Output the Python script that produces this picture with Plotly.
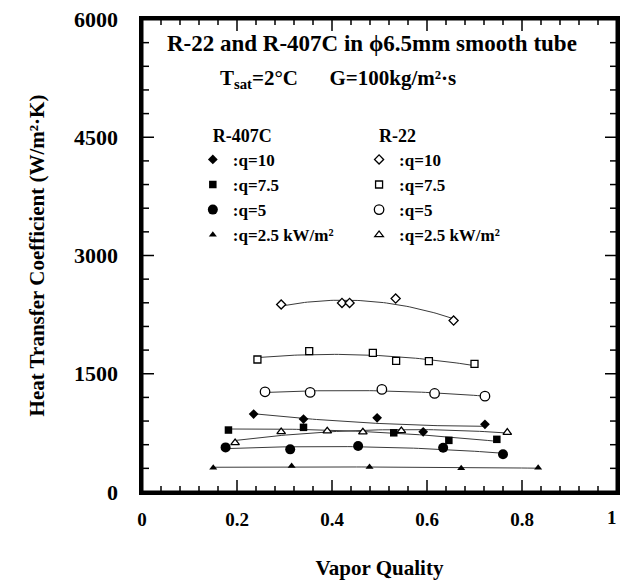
import numpy as np
import plotly.graph_objects as go

# ---------------- data ----------------
r407c_q10_x = [0.235, 0.340, 0.495, 0.592, 0.722]
r407c_q10_y = [988, 925, 941, 764, 858]
r407c_q75_x = [0.182, 0.340, 0.530, 0.646, 0.747]
r407c_q75_y = [786, 820, 751, 655, 668]
r407c_q5_x = [0.176, 0.312, 0.455, 0.634, 0.760]
r407c_q5_y = [566, 541, 583, 561, 478]
r407c_q25_x = [0.150, 0.315, 0.479, 0.672, 0.834]
r407c_q25_y = [308, 329, 317, 300, 308]

r22_q10_x = [0.293, 0.421, 0.437, 0.534, 0.656]
r22_q10_y = [2378, 2398, 2398, 2454, 2175]
r22_q75_x = [0.243, 0.352, 0.486, 0.535, 0.604, 0.700]
r22_q75_y = [1681, 1786, 1765, 1664, 1660, 1626]
r22_q5_x = [0.259, 0.354, 0.505, 0.616, 0.722]
r22_q5_y = [1271, 1263, 1301, 1250, 1216]
r22_q25_x = [0.196, 0.293, 0.390, 0.465, 0.546, 0.769]
r22_q25_y = [625, 764, 773, 760, 777, 756]

NB = "\u00a0"
x_tickvals = [0, 0.2, 0.4, 0.6, 0.8, 1]
x_ticktext = ["0", "0.2", "0.4", "0.6", "0.8", "1"]
y_tickvals = [0, 1500, 3000, 4500, 6000]
y_ticktext = ["0", "1500", "3000", "4500", "6000"]
x_minor_step = 0.04
y_minor_step = 300

legend_labels = [":q=10", ":q=7.5", ":q=5", ":q=2.5 kW/m²"]

FONT = "Liberation Serif, Times New Roman, serif"
LINE_COLOR = "#3a3a3a"

W, H = 620, 584
M_L, M_R, M_T, M_B = 142, 3, 19, 92
PLOT_W, PLOT_H = W - M_L - M_R, H - M_T - M_B

series = [
    # (x, y, symbol, filled, size, legend, label)
    (r407c_q10_x, r407c_q10_y, "diamond", True, 7.5, "legend", legend_labels[0]),
    (r407c_q75_x, r407c_q75_y, "square", True, 7.5, "legend", legend_labels[1]),
    (r407c_q5_x, r407c_q5_y, "circle", True, 10, "legend", legend_labels[2]),
    (r407c_q25_x, r407c_q25_y, "triangle-up", True, 7, "legend", legend_labels[3]),
    (r22_q10_x, r22_q10_y, "diamond", False, 7, "legend2", legend_labels[0]),
    (r22_q75_x, r22_q75_y, "square", False, 7, "legend2", legend_labels[1]),
    (r22_q5_x, r22_q5_y, "circle", False, 9.5, "legend2", legend_labels[2]),
    (r22_q25_x, r22_q25_y, "triangle-up", False, 7.5, "legend2", legend_labels[3]),
]

fig = go.Figure()

# trend curves (quadratic least-squares fit of each series)
for xs, ys, sym, filled, size, leg, label in series:
    xa = np.array(xs)
    coef = np.polyfit(xa, np.array(ys), 2)
    xf = np.linspace(xa.min(), xa.max(), 60)
    fig.add_trace(go.Scatter(
        x=xf, y=np.polyval(coef, xf), mode="lines",
        line=dict(color=LINE_COLOR, width=1), showlegend=False, hoverinfo="skip"))

# markers
for xs, ys, sym, filled, size, leg, label in series:
    fig.add_trace(go.Scatter(
        x=xs, y=ys, mode="markers", name=label, legend=leg,
        marker=dict(symbol=sym, size=size,
                    color="black" if filled else "white",
                    line=dict(color="black", width=0 if filled else 1.3))))

# ---- inward tick marks on all four frame sides ----
x_lo, x_hi = x_tickvals[0], x_tickvals[-1]
y_lo, y_hi = y_tickvals[0], y_tickvals[-1]
x_minor = [round(a + k * x_minor_step, 3) for a in x_tickvals[:-1] for k in range(1, 5)]
y_minor = [a + k * y_minor_step for a in y_tickvals[:-1] for k in range(1, 5)]

def px_to_dx(px):
    return px / PLOT_W * (x_hi - x_lo)

def px_to_dy(px):
    return px / PLOT_H * (y_hi - y_lo)

tick_x, tick_y = [], []
for vals, length in ((x_tickvals[1:-1], 12), (x_minor, 6)):
    d = px_to_dy(length)
    for v in vals:
        tick_x += [v, v, None, v, v, None]
        tick_y += [y_lo, y_lo + d, None, y_hi, y_hi - d, None]
for vals, length in ((y_tickvals[1:-1], 12), (y_minor, 7)):
    d = px_to_dx(length)
    for v in vals:
        tick_x += [x_lo, x_lo + d, None, x_hi, x_hi - d, None]
        tick_y += [v, v, None, v, v, None]

fig.add_trace(go.Scatter(
    x=tick_x, y=tick_y, mode="lines", connectgaps=False, cliponaxis=False,
    line=dict(color="black", width=1.5), showlegend=False, hoverinfo="skip"))

frame = dict(type="rect", xref="paper", yref="paper", x0=0, y0=0, x1=1, y1=1,
             line=dict(color="black", width=3), layer="above")

axis_common = dict(
    showline=True, linewidth=3, linecolor="black", mirror=True,
    ticks="", showgrid=False, zeroline=False, automargin=False,
)

fig.update_layout(
    template="none",
    width=W, height=H,
    margin=dict(l=M_L, r=M_R, t=M_T, b=M_B),
    paper_bgcolor="white", plot_bgcolor="white",
    font=dict(family=FONT, color="black", size=18, weight="bold"),
    xaxis=dict(range=[x_lo, x_hi], tickvals=x_tickvals[:-1], ticktext=x_ticktext[:-1],
               tickfont=dict(size=19, weight="bold"),
               ticklabelstandoff=8,
               title=dict(text="Vapor Quality", font=dict(size=21, weight="bold"), standoff=32),
               **axis_common),
    yaxis=dict(range=[y_lo, y_hi], tickvals=y_tickvals,
               ticktext=[t + NB * 3 for t in y_ticktext],
               tickfont=dict(size=22, weight="bold"),
               title=dict(text="Heat Transfer Coefficient (W/m²·K)",
                          font=dict(size=21, weight="bold"), standoff=24),
               **axis_common),
    shapes=[frame],
    legend=dict(x=0.107, y=0.7897, xanchor="left", yanchor="top",
                bgcolor="rgba(0,0,0,0)", itemwidth=30,
                title=dict(text=NB * 4 + "R-407C", font=dict(size=18, weight="bold")),
                font=dict(size=17, weight="bold")),
    legend2=dict(x=0.457, y=0.7897, xanchor="left", yanchor="top",
                 bgcolor="rgba(0,0,0,0)", itemwidth=30,
                 title=dict(text=NB * 4 + "R-22", font=dict(size=18, weight="bold")),
                 font=dict(size=17, weight="bold")),
    annotations=[
        dict(text="R-22 and R-407C in ϕ6.5mm smooth tube", xref="paper", yref="paper",
             x=0.484, y=0.949, xanchor="center", yanchor="middle", showarrow=False,
             font=dict(size=23, weight="bold")),
        dict(text="T<sub>sat</sub>=2°C" + NB * 6 + "G=100kg/m²·s", xref="paper", yref="paper",
             x=0.412, y=0.873, xanchor="center", yanchor="middle", showarrow=False,
             font=dict(size=21, weight="bold")),
        # last x tick label, right-aligned so it stays inside the page
        dict(text=x_ticktext[-1], xref="x", yref="paper", x=x_hi, y=0,
             xanchor="right", yanchor="top", xshift=2, yshift=-13, showarrow=False,
             font=dict(size=19, weight="bold")),
    ],
)

post = "document.body.style.margin='0px';"
fig.write_html("out.html", config={"displayModeBar": False}, post_script=post)
